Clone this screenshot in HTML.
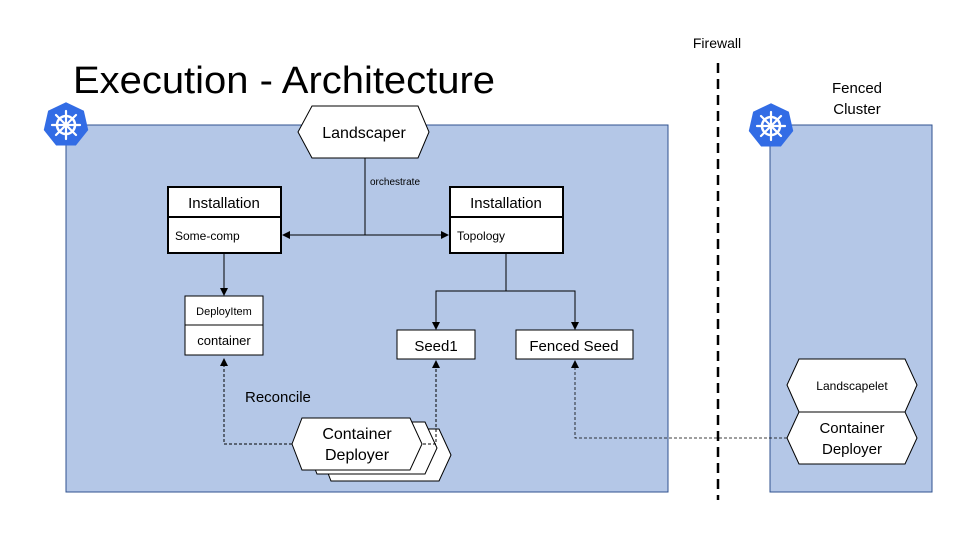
<!DOCTYPE html>
<html><head><meta charset="utf-8"><style>html,body{margin:0;padding:0;background:#fff}svg{display:block}text{font-family:"Liberation Sans",sans-serif;fill:#000}</style></head><body>
<svg width="960" height="540" viewBox="0 0 960 540" xmlns="http://www.w3.org/2000/svg">
<defs>
<marker id="a" markerWidth="8" markerHeight="8" refX="7" refY="4" orient="auto" markerUnits="userSpaceOnUse"><path d="M0,0 L8,4 L0,8 z" fill="#000"/></marker>
<g id="k8s">
<polygon points="0,-24 18.8,-15 23.4,5.3 10.4,21.6 -10.4,21.6 -23.4,5.3 -18.8,-15" fill="#326ce5" transform="scale(0.95)"/>
<circle r="9" fill="none" stroke="#fff" stroke-width="2.5"/>
<circle r="2.5" fill="#fff"/>
<g stroke="#fff" stroke-width="2.2" stroke-linecap="round">
<line x1="0" y1="-14" x2="0" y2="14"/><line x1="-14" y1="0" x2="14" y2="0"/>
<line x1="-10" y1="-10" x2="10" y2="10"/><line x1="-10" y1="10" x2="10" y2="-10"/>
</g></g>
</defs>
<text x="73" y="93" font-size="38" textLength="422" lengthAdjust="spacingAndGlyphs">Execution - Architecture</text>
<rect x="66" y="125" width="602" height="367" fill="#b4c7e7" stroke="#2f528f" stroke-width="1"/>
<rect x="770" y="125" width="162" height="367" fill="#b4c7e7" stroke="#2f528f" stroke-width="1"/>
<use href="#k8s" x="66" y="125"/>
<use href="#k8s" x="771" y="126"/>
<text x="717" y="48" font-size="14" text-anchor="middle">Firewall</text>
<line x1="718" y1="63" x2="718" y2="500" stroke="#000" stroke-width="2.5" stroke-dasharray="10,6"/>
<text x="857" y="93" font-size="15" text-anchor="middle">Fenced</text>
<text x="857" y="114" font-size="15" text-anchor="middle">Cluster</text>
<!-- Landscaper -->
<polygon points="298,132 312,106 418,106 429,132 418,158 312,158" fill="#fff" stroke="#000"/>
<text x="364" y="138" font-size="16" text-anchor="middle">Landscaper</text>
<line x1="365" y1="158" x2="365" y2="235" stroke="#000"/>
<text x="370" y="185" font-size="10">orchestrate</text>
<line x1="290" y1="235" x2="448" y2="235" stroke="#000" marker-end="url(#a)"/>
<line x1="365" y1="235" x2="283" y2="235" stroke="#000" marker-end="url(#a)"/>
<!-- Installations -->
<rect x="168" y="187" width="113" height="66" fill="#fff" stroke="#000" stroke-width="2"/>
<line x1="168" y1="217" x2="281" y2="217" stroke="#000" stroke-width="2"/>
<text x="224" y="208" font-size="15" text-anchor="middle">Installation</text>
<text x="175" y="240" font-size="12">Some-comp</text>
<rect x="450" y="187" width="113" height="66" fill="#fff" stroke="#000" stroke-width="2"/>
<line x1="450" y1="217" x2="563" y2="217" stroke="#000" stroke-width="2"/>
<text x="506" y="208" font-size="15" text-anchor="middle">Installation</text>
<text x="457" y="240" font-size="12">Topology</text>
<line x1="224" y1="253" x2="224" y2="295" stroke="#000" marker-end="url(#a)"/>
<rect x="185" y="296" width="78" height="59" fill="#fff" stroke="#000"/>
<line x1="185" y1="325" x2="263" y2="325" stroke="#000"/>
<text x="224" y="315" font-size="11" text-anchor="middle">DeployItem</text>
<text x="224" y="345" font-size="13" text-anchor="middle">container</text>
<polyline points="506,253 506,291 436,291 436,329" fill="none" stroke="#000" marker-end="url(#a)"/>
<polyline points="506,291 575,291 575,329" fill="none" stroke="#000" marker-end="url(#a)"/>
<rect x="397" y="330" width="78" height="29" fill="#fff" stroke="#000"/>
<text x="436" y="351" font-size="15" text-anchor="middle">Seed1</text>
<rect x="516" y="330" width="117" height="29" fill="#fff" stroke="#000"/>
<text x="574" y="351" font-size="15" text-anchor="middle">Fenced Seed</text>
<text x="245" y="402" font-size="15">Reconcile</text>
<!-- Container deployer stack -->
<polygon points="321,455 331,429 439,429 451,455 439,481 331,481" fill="#fff" stroke="#000"/>
<polygon points="307,448 317,422 425,422 437,448 425,474 317,474" fill="#fff" stroke="#000"/>
<polygon points="292,444 302,418 410,418 422,444 410,470 302,470" fill="#fff" stroke="#000"/>
<text x="357" y="439" font-size="16" text-anchor="middle">Container</text>
<text x="357" y="460" font-size="16" text-anchor="middle">Deployer</text>
<polyline points="292,444 224,444 224,359" fill="none" stroke="#000" stroke-dasharray="3,2" marker-end="url(#a)"/>
<polyline points="423,444 436,444 436,361" fill="none" stroke="#000" stroke-dasharray="3,2" marker-end="url(#a)"/>
<!-- Fenced cluster content -->
<polygon points="787,385 799,359 905,359 917,385 905,412 799,412" fill="#fff" stroke="#000"/>
<text x="852" y="390" font-size="12" text-anchor="middle">Landscapelet</text>
<polygon points="787,438 799,412 905,412 917,438 905,464 799,464" fill="#fff" stroke="#000"/>
<text x="852" y="433" font-size="15" text-anchor="middle">Container</text>
<text x="852" y="454" font-size="15" text-anchor="middle">Deployer</text>
<polyline points="787,438 575,438 575,361" fill="none" stroke="#000" stroke-width="0.8" stroke-dasharray="3,2" marker-end="url(#a)"/>
</svg>
</body></html>
